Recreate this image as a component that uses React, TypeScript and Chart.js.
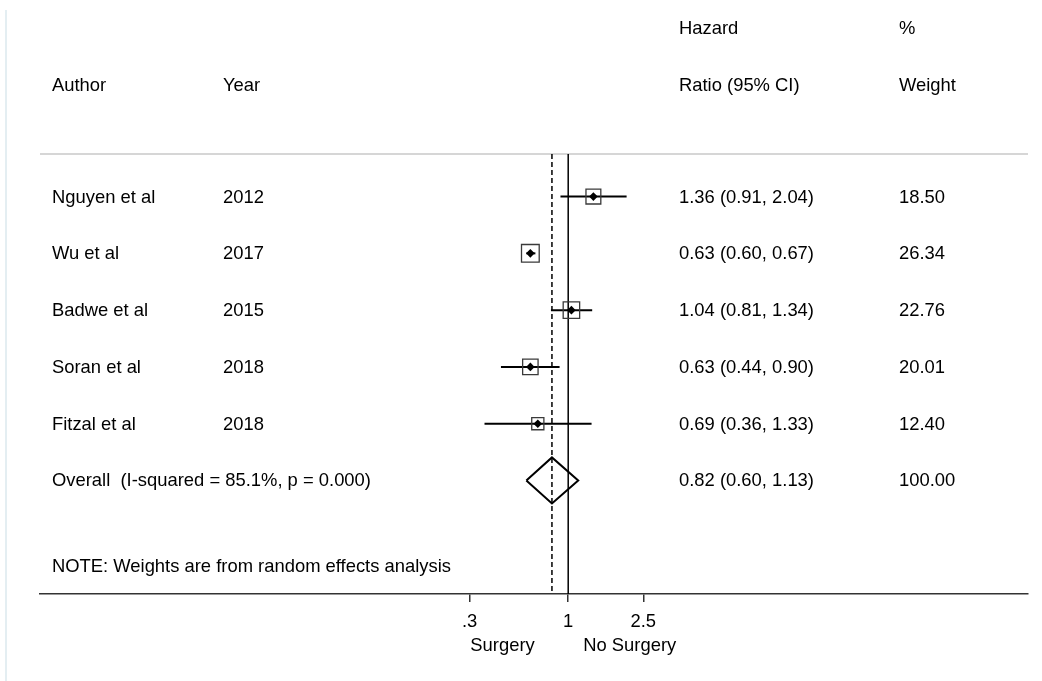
import { useEffect, useRef } from 'react';
import { Chart, registerables } from 'chart.js';

Chart.register(...registerables);

// ---- data ----
const authors = ['Nguyen et al', 'Wu et al', 'Badwe et al', 'Soran et al', 'Fitzal et al'];
const years = ['2012', '2017', '2015', '2018', '2018'];
const hazardRatio = [1.36, 0.63, 1.04, 0.63, 0.69];
const ciLower = [0.91, 0.60, 0.81, 0.44, 0.36];
const ciUpper = [2.04, 0.67, 1.34, 0.90, 1.33];
const weights = [18.50, 26.34, 22.76, 20.01, 12.40];

const overallHR = 0.82;
const overallLower = 0.60;
const overallUpper = 1.13;
const overallWeight = 100.0;
const overallLabel = 'Overall  (I-squared = 85.1%, p = 0.000)';
const noteText = 'NOTE: Weights are from random effects analysis';

const xTickValues = [0.3, 1, 2.5];
const xTickLabels = ['.3', '1', '2.5'];
const leftFavourLabel = 'Surgery';
const rightFavourLabel = 'No Surgery';

const headerLine1 = ['', '', 'Hazard', '%'];
const headerLine2 = ['Author', 'Year', 'Ratio (95% CI)', 'Weight'];

// ---- layout / style constants ----
const FONT = '"Liberation Sans", Arial, Helvetica, sans-serif';
const FONT_SIZE = 18.4;
const TEXT_DY = 0.9;
const W = 1042;
const H = 681;
const Y_MIN = -0.75;
const Y_MAX = 7;
const X_MIN = 0.001584;
const X_MAX = 273.9;
const COL_X = [52, 223, 679, 899];
const OVERALL_ROW = 5;
const NOTE_ROW = 6.5;
const DIAMOND_HALF = 0.405;

const fmt = (v: number) => v.toFixed(2);

export default function App() {
  const ref = useRef<HTMLCanvasElement>(null);

  useEffect(() => {
    const canvas = ref.current;
    if (!canvas) return;

    const ciSets = authors.map((_, i) => ({
      type: 'scatter' as const,
      data: [
        { x: ciLower[i], y: i },
        { x: ciUpper[i], y: i },
      ],
      showLine: true,
      borderColor: '#000',
      borderWidth: 2,
      pointRadius: 0,
      order: 2,
    }));

    const boxSet = {
      type: 'scatter' as const,
      data: hazardRatio.map((v, i) => ({ x: v, y: i })),
      pointStyle: 'rect',
      pointRadius: (c: any) => (3.45 * Math.sqrt(weights[c.dataIndex] ?? 0)) / Math.SQRT2,
      backgroundColor: 'rgba(0,0,0,0)',
      borderColor: '#3a3a3a',
      borderWidth: 1.3,
      order: 1,
    };

    const dotSet = {
      type: 'scatter' as const,
      data: hazardRatio.map((v, i) => ({ x: v, y: i })),
      pointStyle: 'rectRot',
      pointRadius: 4.3,
      backgroundColor: '#000',
      borderColor: '#000',
      borderWidth: 0,
      order: 0,
    };

    const overallSet = {
      type: 'scatter' as const,
      data: [
        { x: overallLower, y: OVERALL_ROW },
        { x: overallHR, y: OVERALL_ROW - DIAMOND_HALF },
        { x: overallUpper, y: OVERALL_ROW },
        { x: overallHR, y: OVERALL_ROW + DIAMOND_HALF },
        { x: overallLower, y: OVERALL_ROW },
      ],
      showLine: true,
      borderColor: '#000',
      borderWidth: 2,
      pointRadius: 0,
      order: 2,
    };

    const nullLine = {
      type: 'scatter' as const,
      data: [
        { x: 1, y: Y_MIN },
        { x: 1, y: Y_MAX },
      ],
      showLine: true,
      borderColor: '#000',
      borderWidth: 1.5,
      pointRadius: 0,
      order: 3,
    };

    const overallLine = {
      type: 'scatter' as const,
      data: [
        { x: overallHR, y: Y_MIN },
        { x: overallHR, y: Y_MAX },
      ],
      showLine: true,
      borderColor: '#000',
      borderWidth: 1.5,
      borderDash: [5, 3],
      pointRadius: 0,
      order: 3,
    };

    const textPlugin = {
      id: 'forestText',
      beforeDatasetsDraw(chart: any) {
        const { ctx, chartArea } = chart;
        ctx.save();
        // faint frame line at left
        ctx.strokeStyle = '#e4eef2';
        ctx.lineWidth = 2;
        ctx.beginPath();
        ctx.moveTo(6, 10);
        ctx.lineTo(6, H);
        ctx.stroke();
        // top grey rule
        ctx.strokeStyle = '#c8c8c8';
        ctx.lineWidth = 1.6;
        ctx.beginPath();
        ctx.moveTo(chartArea.left, chartArea.top);
        ctx.lineTo(chartArea.right, chartArea.top);
        ctx.stroke();
        ctx.restore();
      },
      afterDraw(chart: any) {
        const { ctx } = chart;
        const x = chart.scales.x;
        const y = chart.scales.y;
        const rowY = (v: number) => y.getPixelForValue(v) + TEXT_DY;
        ctx.save();
        ctx.font = `${FONT_SIZE}px ${FONT}`;
        ctx.fillStyle = '#000';
        ctx.textBaseline = 'middle';
        ctx.textAlign = 'left';

        headerLine1.forEach((t, c) => {
          if (t) ctx.fillText(t, COL_X[c], rowY(-2.97));
        });
        headerLine2.forEach((t, c) => {
          if (t) ctx.fillText(t, COL_X[c], rowY(-1.97));
        });

        authors.forEach((a, i) => {
          const py = rowY(i);
          ctx.fillText(a, COL_X[0], py);
          ctx.fillText(years[i], COL_X[1], py);
          ctx.fillText(`${fmt(hazardRatio[i])} (${fmt(ciLower[i])}, ${fmt(ciUpper[i])})`, COL_X[2], py);
          ctx.fillText(fmt(weights[i]), COL_X[3], py);
        });

        const po = rowY(OVERALL_ROW);
        ctx.fillText(overallLabel, COL_X[0], po);
        ctx.fillText(`${fmt(overallHR)} (${fmt(overallLower)}, ${fmt(overallUpper)})`, COL_X[2], po);
        ctx.fillText(fmt(overallWeight), COL_X[3], po);

        ctx.fillText(noteText, COL_X[0], rowY(NOTE_ROW));

        const x1 = x.getPixelForValue(1);
        ctx.textAlign = 'center';
        ctx.fillText(leftFavourLabel, x1 - 65.7, 646);
        ctx.fillText(rightFavourLabel, x1 + 61.5, 646);
        ctx.restore();
      },
    };

    const chart = new Chart(canvas, {
      type: 'scatter',
      data: {
        datasets: [dotSet, boxSet, ...ciSets, overallSet, nullLine, overallLine] as any,
      },
      options: {
        responsive: false,
        animation: false,
        maintainAspectRatio: false,
        layout: { padding: { left: 40, right: 14, top: 154, bottom: 0 } },
        plugins: {
          legend: { display: false },
          tooltip: { enabled: false },
        },
        scales: {
          x: {
            type: 'logarithmic',
            position: 'bottom',
            min: X_MIN,
            max: X_MAX,
            afterBuildTicks: (scale: any) => {
              scale.ticks = xTickValues.map((v) => ({ value: v }));
            },
            afterFit: (scale: any) => {
              scale.height = 87;
            },
            ticks: {
              autoSkip: false,
              maxRotation: 0,
              padding: 9,
              color: '#000',
              font: { family: FONT, size: FONT_SIZE },
              callback: (v: any) => {
                const idx = xTickValues.findIndex((t) => Math.abs(t - Number(v)) < 1e-9);
                return idx >= 0 ? xTickLabels[idx] : '';
              },
            },
            grid: {
              drawOnChartArea: false,
              drawTicks: true,
              tickLength: 8,
              color: '#333',
              lineWidth: 1.5,
            },
            border: { display: true, color: '#333', width: 1.5 },
          },
          y: {
            type: 'linear',
            reverse: true,
            min: Y_MIN,
            max: Y_MAX,
            display: false,
          },
        },
      },
      plugins: [textPlugin],
    } as any);

    return () => chart.destroy();
  }, []);

  return (
    <div style={{ position: 'absolute', left: 0, top: 0, width: W, height: H, background: '#fff' }}>
      <canvas ref={ref} width={W} height={H} style={{ width: W, height: H, display: 'block' }} />
    </div>
  );
}
